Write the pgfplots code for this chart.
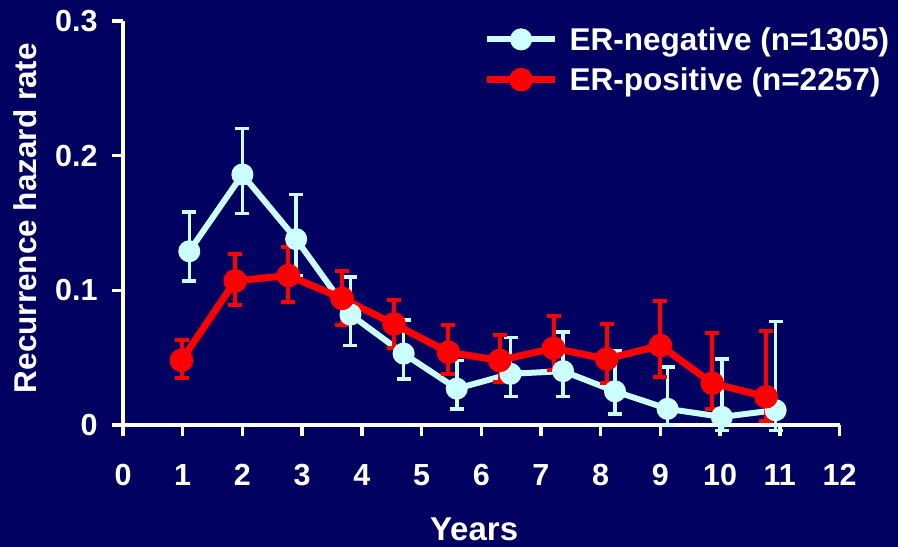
\documentclass[border=0pt]{standalone}
\usepackage{fontspec}
\setmainfont{Liberation Sans}
\usepackage{pgfplots}
\usepackage{pgfplotstable}
\pgfplotsset{compat=1.18}
\definecolor{bg}{RGB}{0,0,96}
\definecolor{ercyan}{RGB}{204,255,255}
\definecolor{erred}{RGB}{255,0,0}

\pgfplotstableread{
x y ep em
1.11 0.129 0.029 0.022
2.00 0.186 0.034 0.029
2.90 0.138 0.033 0.027
3.81 0.082 0.028 0.023
4.70 0.053 0.025 0.019
5.59 0.027 0.021 0.015
6.49 0.038 0.027 0.017
7.37 0.040 0.029 0.019
8.24 0.025 0.030 0.017
9.12 0.012 0.031 0.012
10.03 0.006 0.043 0.010
10.93 0.011 0.066 0.015
}\erneg

\pgfplotstableread{
x y ep em
0.98 0.048 0.015 0.013
1.88 0.107 0.020 0.018
2.77 0.111 0.021 0.020
3.67 0.094 0.020 0.020
4.54 0.075 0.018 0.018
5.45 0.054 0.020 0.016
6.31 0.048 0.019 0.016
7.21 0.057 0.024 0.016
8.10 0.049 0.026 0.018
9.00 0.059 0.033 0.023
9.87 0.031 0.037 0.019
10.77 0.021 0.049 0.018
}\erpos

\begin{document}
\begin{tikzpicture}
\fill[bg] (0,0) rectangle (898bp,547bp);
\useasboundingbox (0,0) rectangle (898bp,547bp);
\begin{axis}[
  at={(123bp,122bp)}, anchor=south west,
  scale only axis, width=716.5bp, height=404bp,
  xmin=0, xmax=12, ymin=0, ymax=0.3,
  axis lines=left,
  axis line style={-, white, line width=3.5bp},
  tick style={white, line width=3.5bp},
  major tick length=11bp, tick align=outside,
  xtick={0,1,2,3,4,5,6,7,8,9,10,11,12},
  xticklabels={0,1,2,3,4,5,6,7,8,9,10,11,12},
  ytick={0,0.1,0.2,0.3},
  yticklabels={0,0.1,0.2,0.3},
  ticklabel style={font=\fontsize{30.5bp}{36bp}\selectfont\bfseries, text=white},
  xticklabel style={yshift=-25bp},
  yticklabel style={xshift=-11bp},
  clip=false,
  xlabel={Years},
  ylabel={Recurrence hazard rate},
  xlabel style={font=\fontsize{33bp}{40bp}\selectfont\bfseries, text=white, at={(axis description cs:0.49,-0.287)}, anchor=base},
  ylabel style={font=\fontsize{31.5bp}{38bp}\selectfont\bfseries, text=white, at={(axis description cs:-0.137,0.512)}, anchor=center},
  legend style={draw=none, fill=none, at={(axis description cs:0.503,0.99)}, anchor=north west,
    font=\fontsize{31.5bp}{38bp}\selectfont\bfseries, text=white, row sep=12bp, inner sep=0pt,
    nodes={inner xsep=11bp}},
  legend cell align=left,
  legend image code/.code={\draw[#1, mark repeat=2, mark phase=2] plot coordinates {(0bp,0bp) (34bp,0bp) (68bp,0bp)};},
]
\addplot[ercyan, line width=6bp, line join=round, mark=*, mark size=8bp, mark options={solid},
  error bars/.cd, y dir=both, y explicit,
  error bar style={line width=3.5bp},
  error mark options={line width=3.5bp, mark size=7bp, rotate=90}]
  table[x=x, y=y, y error plus=ep, y error minus=em] {\erneg};
\addlegendentry{ER-negative (n=1305)}
\addplot[erred, line width=7bp, line join=round, mark=*, mark size=8.3bp, mark options={solid},
  error bars/.cd, y dir=both, y explicit,
  error bar style={line width=4bp},
  error mark options={line width=4bp, mark size=7bp, rotate=90}]
  table[x=x, y=y, y error plus=ep, y error minus=em] {\erpos};
\addlegendentry{ER-positive (n=2257)}
\end{axis}
\end{tikzpicture}
\end{document}
